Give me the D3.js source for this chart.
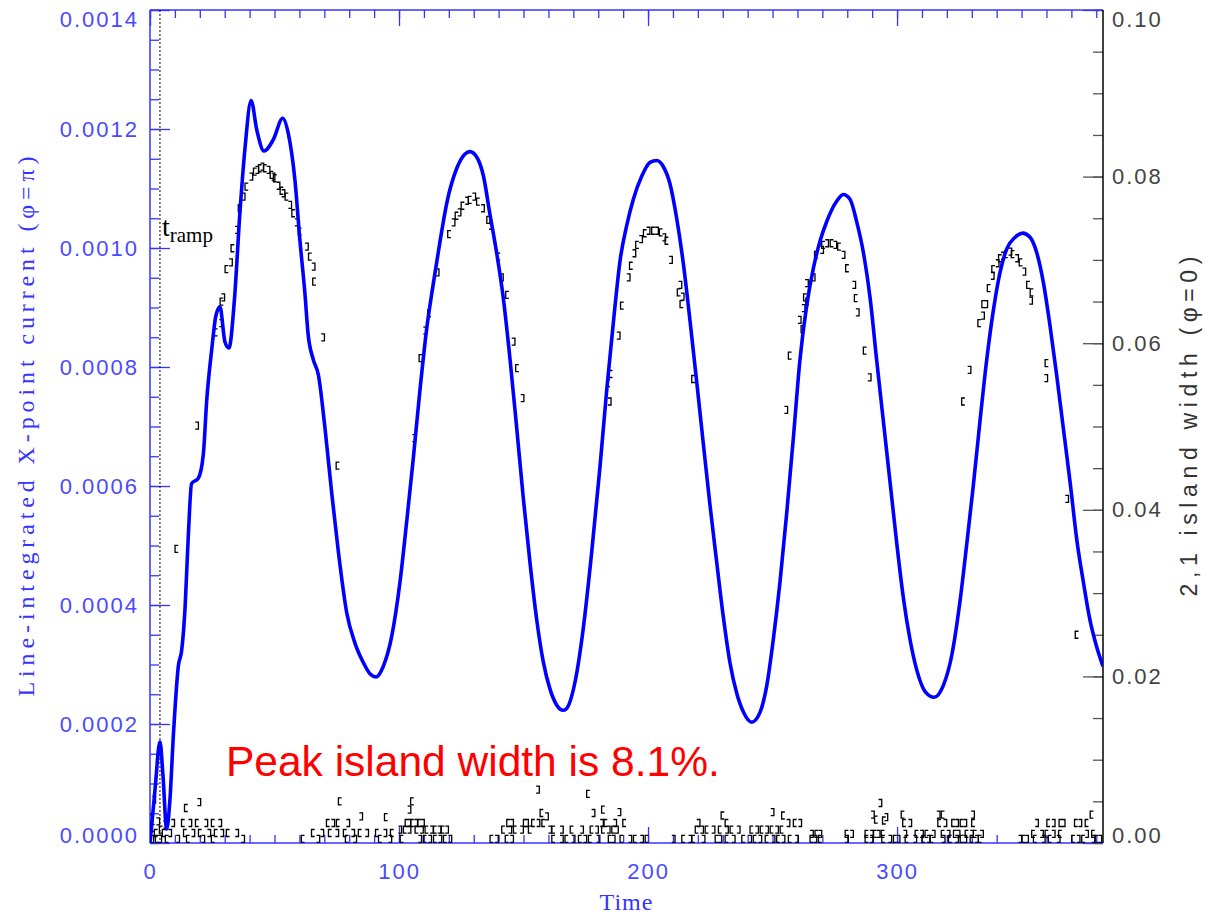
<!DOCTYPE html>
<html><head><meta charset="utf-8">
<script src="https://cdn.jsdelivr.net/npm/d3@7"></script>
<style>html,body{margin:0;padding:0;background:#fff;} svg{display:block;}</style>
</head><body>
<svg id="chart" width="1209" height="915"></svg>
<script>
// ---------------- DATA ----------------
const currentT = [0,2.0,4.0,5.2,6.7,8.0,9.4,11.4,12.7,14.1,15.4,16.7,19.4,21.4,22.8,24.8,26.5,28.1,30.1,31.7,33.9,36.1,38.2,40.6,42.9,45.8,49.5,53.3,55.5,58.2,60.2,62.2,63.5,65.6,67.6,70.3,73.0,75.6,79.0,82.3,85.7,88.4,90.8,93.7,97.1,100.4,103.1,105.7,108.4,111.1,113.8,116.5,119.2,123.2,126.5,128.5,131.2,133.9,136.5,139.2,141.9,144.6,147.3,149.9,152.6,155.3,158.0,160.6,163.3,166.0,167.3,170.7,174.0,177.4,180.7,183.4,186.1,188.8,191.4,194.1,197.5,200.8,203.5,206.1,208.8,211.5,214.2,216.9,219.6,222.2,224.9,227.6,230.2,232.9,235.6,238.3,241.6,245.0,247.7,250.3,253.0,255.7,258.4,261.0,263.7,266.4,269.1,271.8,275.8,278.4,281.1,283.8,286.5,289.2,291.8,294.5,297.2,299.9,302.5,305.2,307.9,311.2,314.9,318.6,322.0,325.3,328.0,330.6,333.3,336.0,338.7,341.4,344.1,347.4,350.5,353.4,356.1,358.8,361.4,364.1,366.8,369.5,372.2,374.8,377.5,380.2,382.7];
const currentV = [0,0.000089,0.00017,0.000114,0.0000235,0.0000723,0.000182,0.000298,0.000323,0.000397,0.000518,0.000604,0.000613,0.000653,0.000745,0.00083,0.000887,0.000901,0.000842,0.000832,0.000913,0.001059,0.00117,0.001248,0.001198,0.001163,0.001182,0.001218,0.001193,0.001114,0.001013,0.000924,0.000855,0.000812,0.000787,0.000696,0.000587,0.000491,0.000387,0.000336,0.000303,0.000284,0.000279,0.000297,0.000348,0.000439,0.000541,0.000645,0.000761,0.000864,0.000941,0.001012,0.001076,0.001134,0.001158,0.001162,0.001153,0.001121,0.001057,0.000992,0.000915,0.000812,0.000696,0.00058,0.000471,0.000375,0.000303,0.000259,0.000232,0.000223,0.000226,0.000271,0.000361,0.00049,0.000632,0.000761,0.000876,0.00098,0.001037,0.001082,0.001121,0.001144,0.001147,0.001137,0.001108,0.00105,0.000973,0.000876,0.000773,0.000671,0.000567,0.000471,0.000381,0.000303,0.000252,0.00022,0.000203,0.00022,0.000265,0.000342,0.000439,0.000555,0.000683,0.000812,0.000903,0.000966,0.001012,0.001045,0.001079,0.00109,0.001082,0.001044,0.000992,0.000915,0.000812,0.000709,0.000606,0.000503,0.000413,0.000342,0.000291,0.000255,0.000245,0.000265,0.000316,0.000407,0.000503,0.0006,0.000709,0.000812,0.000896,0.00096,0.000999,0.001018,0.001025,0.001018,0.000992,0.000941,0.00087,0.000786,0.000696,0.000606,0.000509,0.000439,0.000374,0.000329,0.000297];

// island width (right axis) near the five peaks
const islandT = [10.7,18.8,26.5,28.5,28.8,29.3,30.8,32.4,33.2,34.8,36.1,37.5,38.8,40.6,42.2,43.0,44.2,45.0,46.2,47.5,48.9,49.5,50.2,51.5,52.9,53.5,54.9,56.2,57.6,58.8,60.2,62.9,64.3,65.6,66.0,69.4,75.4,
  106.0,108.7,110.4,112.2,115.4,120.2,121.8,123.2,124.2,125.6,127.2,128.5,130.1,131.8,133.6,135.9,136.8,140.0,141.2,143.5,145.9,147.5,149.5,
  184.1,184.5,185.1,188.1,189.6,192.1,193.2,194.4,195.7,197.1,198.8,200.1,202.1,203.5,205.2,206.4,207.5,209.1,212.4,212.9,213.5,213.8,218.2,
  255.4,257.0,260.8,262.1,262.4,263.1,263.7,264.0,266.4,267.5,269.8,270.4,271.8,273.8,275.1,276.8,278.4,280.0,282.7,283.5,284.1,287.1,288.9,
  326.6,329.0,333.1,334.4,334.7,335.7,336.9,338.3,338.7,340.3,341.4,342.4,343.8,345.4,346.5,348.1,349.7,351.0,352.7,353.7,354.1,359.8,360.1,368.2,372.2];
const islandW = [0.0353,0.0501,0.0613,0.0624,0.065,0.0655,0.0689,0.0697,0.0714,0.0736,0.0762,0.0776,0.0788,0.08,0.0806,0.0808,0.081,0.0812,0.081,0.0808,0.0802,0.08,0.0798,0.0789,0.0783,0.078,0.0776,0.0766,0.0756,0.0745,0.0734,0.0716,0.0704,0.0692,0.0674,0.0607,0.0453,
  0.0486,0.0582,0.0615,0.0636,0.0685,0.0731,0.0745,0.0753,0.0757,0.0765,0.0771,0.0772,0.0776,0.077,0.0762,0.0748,0.0741,0.0704,0.0679,0.0658,0.0602,0.057,0.0534,
  0.0552,0.053,0.0563,0.0609,0.0645,0.0679,0.0693,0.0708,0.0718,0.0725,0.0732,0.0735,0.0735,0.0735,0.0733,0.0727,0.0723,0.07,0.0661,0.067,0.0647,0.0656,0.0557,
  0.052,0.0585,0.0628,0.0617,0.0642,0.0655,0.0672,0.065,0.0679,0.0706,0.0712,0.0718,0.072,0.072,0.0718,0.0716,0.0706,0.069,0.067,0.0654,0.0637,0.0591,0.0559,
  0.053,0.0568,0.0624,0.0633,0.0647,0.0647,0.0666,0.0681,0.0689,0.0696,0.0702,0.0705,0.0707,0.071,0.0707,0.0702,0.0697,0.0686,0.067,0.0651,0.0661,0.0558,0.0576,0.0413,0.025];

// near-zero island width between peaks: rows of points at a common level
const floorLevels = [0.0005, 0.0012, 0.0016, 0.0011, 0.0024];
const floorTimes = [
  [0.8,2.8,4.0,6.8,11.2,15.3,21.3,25.3,37.3,61.4,67.5,79.1,82.3,92.4,96.4,101.1,108.4,110.4,112.4,114.5,116.5,118.5,120.5,137.2,139.2,143.3,145.3,162.0,165.3,167.3,170.0,172.7,174.7,176.7,180.0,184.7,186.1,189.4,192.8,194.8,197.5,199.5,210.2,214.2,216.9,218.2,222.2,227.6,228.9,231.6,234.3,238.3,240.9,242.9,245.0,247.7,250.3,252.3,254.3,257.0,259.7,265.7,267.1,269.1,279.8,287.8,289.8,294.5,297.2,299.2,300.5,303.9,307.2,310.6,312.6,313.9,318.6,321.3,324.0,326.0,327.3,330.0,332.0,333.3,349.4,350.7,352.1,355.4,358.8,361.4,364.8,370.8,372.8,374.8,378.8,380.2,381.5],
  [5.6,8.0,14.1,17.3,20.1,23.7,26.5,28.9,31.3,34.9,65.5,69.1,72.3,75.1,78.3,81.5,84.3,87.1,91.2,94.4,97.2],
  [100.4,102.4,104.1,107.1,109.1,111.1,113.1,114.5,116.2,117.6,119.2,141.9,144.6,146.6,149.3,152.6,160.6,162.0,165.3,169.4,173.4,177.4,179.4,182.0,184.1,186.1,187.4,219.6,221.6,223.6,226.2,228.9,231.6,233.6,236.3,241.6,243.7,245.7,247.7,249.7,251.7,253.7],
  [265.7,267.7,269.1,279.8,281.8,287.8,289.8,291.2,292.5,294.3,303.2,307.9,309.9,311.9,314.6,318.4,320.6,323.3,324.6,328.0,330.0,331.3,334.0,354.7,358.1,360.1,362.8,365.5,376.2,378.8],
  [9.2,13.3,16.1,18.9,22.5,25.3,28.1,71.5,73.5,75.5,79.5,103.1,104.1,105.3,106.8,108.2,109.5,143.9,145.3,150.6,151.3,153.9,155.9,158.0,181.4,183.0,186.7,190.5,220.2,231.6,256.3,259.0,261.0,302.9,305.2,317.0,319.3,322.6,324.0,326.0,327.3,330.6,356.1,360.8,362.8,365.7,366.8,371.9,373.5,376.2]
];
// scattered low points
const scatterT = [0.5,1.2,1.6,2.4,3.2,4.4,6.0,14.5,19.7,76.3,84.7,94.8,104.1,105.3,155.7,157.3,159.3,176.0,178.0,182.0,188.4,230.0,249.9,254.3,290.2,291.6,293.2,294.8,295.6,302.3,316.6,318.4,330.4,378.2];
const scatterW = [0.003,0.0018,0.0052,0.0012,0.0026,0.0016,0.0022,0.0042,0.0049,0.005,0.0032,0.0031,0.004,0.005,0.0064,0.0036,0.0032,0.0059,0.0036,0.004,0.0037,0.0033,0.0037,0.0033,0.0034,0.0028,0.0048,0.0027,0.0031,0.0034,0.0034,0.0034,0.0034,0.0034];

const leftTicks = [0,0.0002,0.0004,0.0006,0.0008,0.0010,0.0012,0.0014];
const rightTicks = [0,0.02,0.04,0.06,0.08,0.10];
const timeTicks = [0,100,200,300];
const tRamp = 4;
const annotation = "Peak island width is 8.1%.";

// ---------------- CHART ----------------
const W = 1209, H = 915;
const m = {left:150, right:1103, top:10, bottom:843};
const x = d3.scaleLinear().domain([0, 382.7]).range([m.left, m.right]);
const yL = d3.scaleLinear().domain([0, 0.0014]).range([m.bottom, m.top]);
const yR = d3.scaleLinear().domain([0, 0.10]).range([m.bottom, m.top]);

const blue = "#3434ff", blueText = "#4a4aff";
const svg = d3.select("#chart");
svg.append("rect").attr("width", W).attr("height", H).attr("fill", "#fff");

const tickFont = "'Liberation Sans', Arial, sans-serif";
function styleAxis(g, col, textCol){
  g.attr("font-family", tickFont).attr("font-size", 22);
  g.select(".domain").remove();
  g.selectAll(".tick line").attr("stroke", col).attr("stroke-width", 1.3);
  g.selectAll(".tick text").attr("fill", textCol).attr("letter-spacing", "2px");
}

// left axis (blue)
const leftMinor = d3.range(29).map(i => i * 0.00005);
styleAxis(svg.append("g").attr("transform", `translate(${m.left},0)`)
  .call(d3.axisLeft(yL).tickValues(leftMinor).tickSizeInner(-9).tickSizeOuter(0).tickFormat("")), blue, blueText);
const gL = svg.append("g").attr("transform", `translate(${m.left},0)`)
  .call(d3.axisLeft(yL).tickValues(leftTicks).tickSizeInner(-20).tickSizeOuter(0).tickPadding(11).tickFormat(d3.format(".4f")));
styleAxis(gL, blue, blueText);
gL.selectAll(".tick text").filter(d => d === 0.0014).attr("y", 9);
gL.selectAll(".tick text").filter(d => d === 0).attr("y", -8);

// right axis (black)
const rightMinor = d3.range(21).map(i => i * 0.005);
styleAxis(svg.append("g").attr("transform", `translate(${m.right},0)`)
  .call(d3.axisRight(yR).tickValues(rightMinor).tickSizeInner(-10).tickSizeOuter(0).tickFormat("")), "#555", "#444");
const gR = svg.append("g").attr("transform", `translate(${m.right},0)`)
  .call(d3.axisRight(yR).tickValues(rightTicks).tickSizeInner(-20).tickSizeOuter(0).tickPadding(9).tickFormat(d3.format(".2f")));
styleAxis(gR, "#555", "#444");
gR.selectAll(".tick text").filter(d => d === 0.10).attr("y", 9);
gR.selectAll(".tick text").filter(d => d === 0).attr("y", -8);

// bottom & top axes (blue)
const timeMinor = d3.range(39).map(i => i * 10);
styleAxis(svg.append("g").attr("transform", `translate(0,${m.bottom})`)
  .call(d3.axisBottom(x).tickValues(timeMinor).tickSizeInner(-8).tickSizeOuter(0).tickFormat("")), blue, blueText);
const gB = svg.append("g").attr("transform", `translate(0,${m.bottom})`)
  .call(d3.axisBottom(x).tickValues(timeTicks).tickSizeInner(-16).tickSizeOuter(0).tickPadding(20).tickFormat(d3.format("d")));
styleAxis(gB, blue, blueText);
styleAxis(svg.append("g").attr("transform", `translate(0,${m.top})`)
  .call(d3.axisTop(x).tickValues(timeMinor).tickSizeInner(-8).tickSizeOuter(0).tickFormat("")), blue, blueText);
styleAxis(svg.append("g").attr("transform", `translate(0,${m.top})`)
  .call(d3.axisTop(x).tickValues(timeTicks).tickSizeInner(-16).tickSizeOuter(0).tickFormat("")), blue, blueText);

// frame
svg.append("line").attr("x1", m.left).attr("x2", m.left).attr("y1", m.top).attr("y2", m.bottom).attr("stroke", blue).attr("stroke-width", 1.5);
svg.append("line").attr("x1", m.left).attr("x2", m.right).attr("y1", m.top).attr("y2", m.top).attr("stroke", blue).attr("stroke-width", 1.5);
svg.append("line").attr("x1", m.left).attr("x2", m.right).attr("y1", m.bottom).attr("y2", m.bottom).attr("stroke", blue).attr("stroke-width", 1.5);
svg.append("line").attr("x1", m.right).attr("x2", m.right).attr("y1", m.top).attr("y2", m.bottom).attr("stroke", "#000").attr("stroke-width", 1.5);

// t_ramp dotted line
svg.append("line").attr("x1", x(tRamp)).attr("x2", x(tRamp)).attr("y1", m.top).attr("y2", m.bottom)
  .attr("stroke", "#000").attr("stroke-width", 1).attr("stroke-dasharray", "2,2");

// clip
svg.append("clipPath").attr("id", "clip").append("rect")
  .attr("x", m.left).attr("y", m.top - 2).attr("width", m.right - m.left).attr("height", m.bottom - m.top + 2);

// island width markers
const pts = [];
islandT.forEach((t, i) => pts.push([t, islandW[i]]));
floorTimes.forEach((row, r) => row.forEach(t => pts.push([t, floorLevels[r]])));
scatterT.forEach((t, i) => pts.push([t, scatterW[i]]));
svg.append("g").attr("clip-path", "url(#clip)")
  .selectAll("path").data(pts).join("path")
  .attr("d", (d, i) => {
    const cx = x(d[0]), cy = yR(d[1]);
    const s = (i % 2 === 0) ? 1 : -1;   // '[' or ']'
    return `M${cx + 1.6 * s},${cy - 3.5}H${cx - 1.6 * s}V${cy + 3.5}H${cx + 1.6 * s}`;
  })
  .attr("fill", "none").attr("stroke", "#000").attr("stroke-width", 1.3);

// current curve
const line = d3.line().x(i => x(currentT[i])).y(i => yL(currentV[i])).curve(d3.curveMonotoneX);
svg.append("path").attr("clip-path", "url(#clip)")
  .attr("d", line(d3.range(currentT.length)))
  .attr("fill", "none").attr("stroke", "#0000ff").attr("stroke-width", 3.6).attr("stroke-linejoin", "round");

// t_ramp label
const tr = svg.append("text").attr("x", x(tRamp) + 2).attr("y", 236)
  .attr("font-family", "'Liberation Serif', 'Times New Roman', serif").attr("font-size", 28).attr("fill", "#000");
tr.append("tspan").text("t");
tr.append("tspan").attr("font-size", 21).attr("dy", 6).text("ramp");

// red annotation
svg.append("text").attr("x", 226).attr("y", 776)
  .attr("font-family", "'Liberation Sans', Arial, sans-serif").attr("font-size", 42.5).attr("fill", "#ff0000")
  .text(annotation);

// axis titles
svg.append("text").attr("transform", `translate(34,${(m.top + m.bottom) / 2}) rotate(-90)`)
  .attr("text-anchor", "middle").attr("font-family", "'Liberation Serif', 'Times New Roman', serif")
  .attr("font-size", 24).attr("fill", blue)
  .attr("textLength", 540).attr("lengthAdjust", "spacing")
  .text("Line-integrated X-point current (\u03C6=\u03C0)");
svg.append("text").attr("transform", `translate(1197,${(m.top + m.bottom) / 2}) rotate(-90)`)
  .attr("text-anchor", "middle").attr("font-family", tickFont)
  .attr("font-size", 23).attr("fill", "#333")
  .attr("textLength", 340).attr("lengthAdjust", "spacing")
  .text("2,1 island width (\u03C6=0)");
svg.append("text").attr("x", (m.left + m.right) / 2).attr("y", 910)
  .attr("text-anchor", "middle").attr("font-family", "'Liberation Serif', 'Times New Roman', serif")
  .attr("font-size", 24).attr("fill", blue).attr("letter-spacing", "1px")
  .text("Time");
</script>
</body></html>
